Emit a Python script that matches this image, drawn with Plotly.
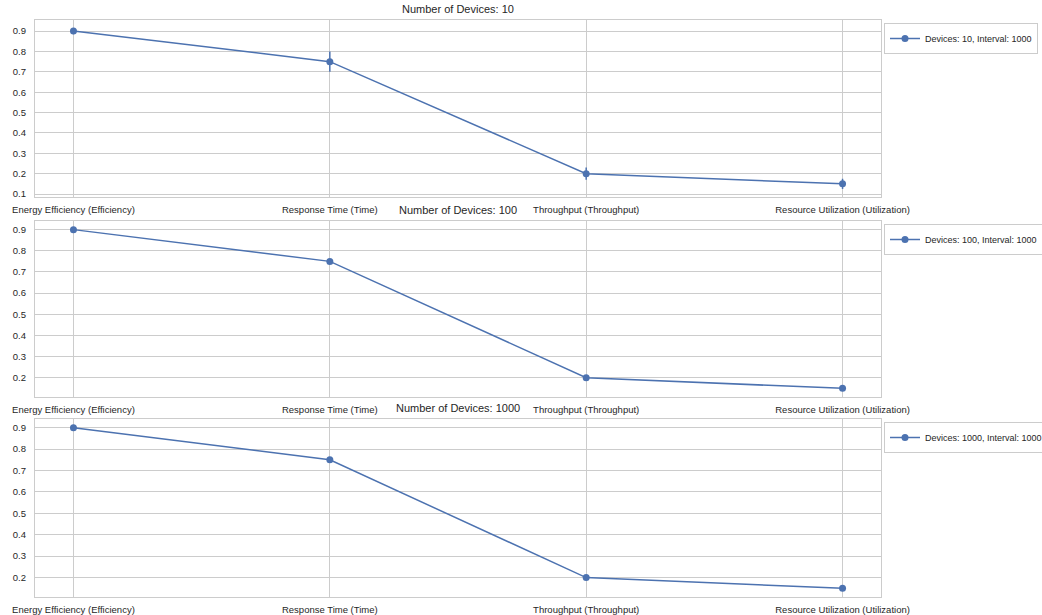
import plotly.graph_objects as go

# Metrics compared across device counts
metrics = [
    "Energy Efficiency (Efficiency)",
    "Response Time (Time)",
    "Throughput (Throughput)",
    "Resource Utilization (Utilization)",
]
device_counts = [10, 100, 1000]
interval = 1000

values_10 = [0.90, 0.75, 0.20, 0.15]
errors_10 = [0.015, 0.05, 0.03, 0.025]
values_100 = [0.90, 0.75, 0.20, 0.15]
errors_100 = [0.003, 0.003, 0.003, 0.003]
values_1000 = [0.90, 0.75, 0.20, 0.15]
errors_1000 = [0.003, 0.003, 0.003, 0.003]

series = [
    (values_10, errors_10),
    (values_100, errors_100),
    (values_1000, errors_1000),
]

BLUE = "#4C72B0"
GRID = "#cccccc"
FONT = "Liberation Sans, Arial, sans-serif"
W, H = 1042, 615

# panel boxes in pixels: (top, bottom)
panel_px = [(20, 197), (221, 397), (419, 597)]
x_left, x_right = 35, 881

fig = go.Figure()
x_pos = list(range(len(metrics)))

for i, ((vals, errs), n) in enumerate(zip(series, device_counts)):
    k = "" if i == 0 else str(i + 1)
    top, bot = panel_px[i]
    lo = min(v - e for v, e in zip(vals, errs))
    hi = max(v + e for v, e in zip(vals, errs))
    pad = 0.05 * (hi - lo)
    yrange = [lo - pad, hi + pad]

    fig.add_trace(go.Scatter(
        x=x_pos, y=vals,
        error_y=dict(type="data", array=errs, visible=True, color=BLUE,
                     thickness=1.5, width=0),
        mode="lines+markers",
        line=dict(color=BLUE, width=1.5),
        marker=dict(color=BLUE, size=7, symbol="circle"),
        name=f"Devices: {n}, Interval: {interval}",
        xaxis="x" + k, yaxis="y" + k,
        legend="legend" + k,
        showlegend=True,
    ))

    ydom = [1 - bot / H, 1 - top / H]
    fig.layout["xaxis" + k] = dict(
        domain=[x_left / W, x_right / W], anchor="y" + k,
        range=[-0.15, 3.15], tickvals=x_pos, ticktext=metrics,
        showgrid=True, gridcolor=GRID, gridwidth=1,
        showline=True, mirror=True, linecolor=GRID, linewidth=1.25,
        ticks="", zeroline=False, ticklabelstandoff=3, automargin=False,
        tickfont=dict(family=FONT, size=9.5, color="#262626"),
    )
    fig.layout["yaxis" + k] = dict(
        domain=ydom, anchor="x" + k, range=yrange,
        dtick=0.1, tick0=0, tickformat=".1f",
        showgrid=True, gridcolor=GRID, gridwidth=1,
        showline=True, mirror=True, linecolor=GRID, linewidth=1.25,
        ticks="", zeroline=False, ticklabelstandoff=6, automargin=False,
        tickfont=dict(family=FONT, size=9.5, color="#262626"),
    )
    fig.layout["legend" + k] = dict(
        x=884 / W, y=1 - (top + 3) / H, xanchor="left", yanchor="top",
        bgcolor="white", bordercolor=GRID, borderwidth=1,
        font=dict(family=FONT, size=9, color="#262626"),
        itemwidth=30, tracegroupgap=0,
    )
    fig.add_annotation(
        x=(x_left + x_right) / 2 / W, y=1 - (top - 3) / H,
        xref="paper", yref="paper", xanchor="center", yanchor="bottom",
        text=f"Number of Devices: {n}", showarrow=False,
        font=dict(family=FONT, size=11, color="#262626"),
    )

fig.update_layout(
    width=W, height=H,
    margin=dict(l=0, r=0, t=0, b=0, autoexpand=False),
    paper_bgcolor="white", plot_bgcolor="white",
)

fig.write_html("out.html")
